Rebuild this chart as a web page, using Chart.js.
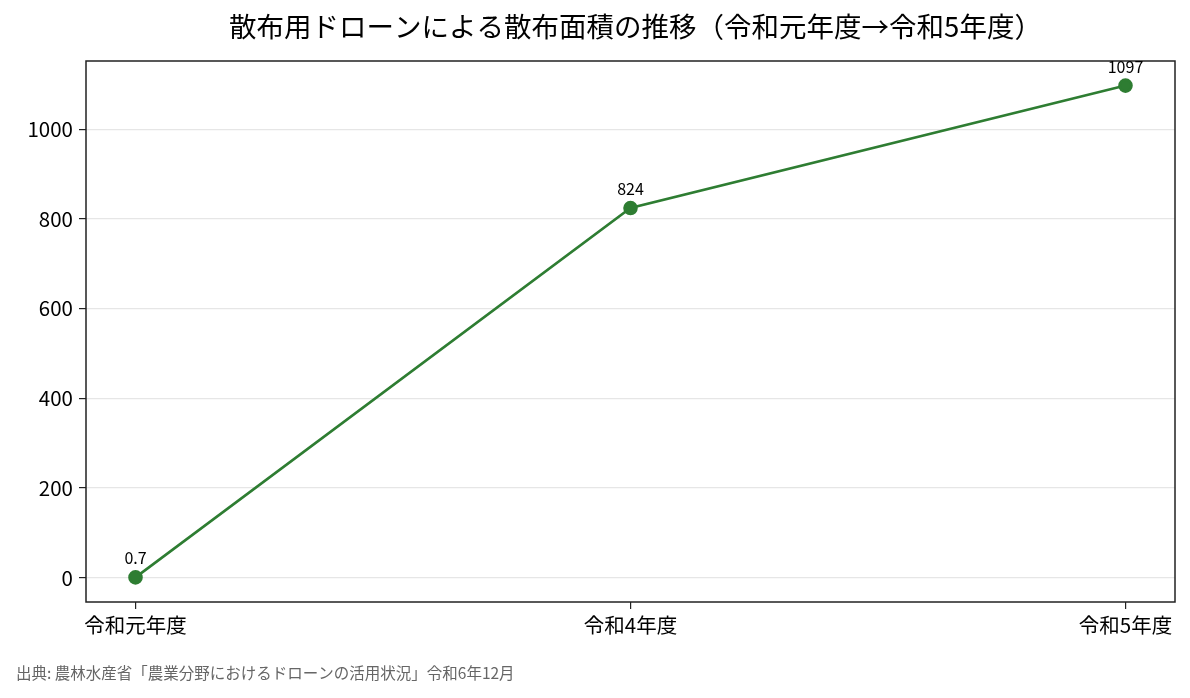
<!DOCTYPE html>
<html>
<head>
<meta charset="utf-8">
<script src="https://cdn.jsdelivr.net/npm/chart.js@4.4.0/dist/chart.umd.min.js"></script>
<style>
  html, body { margin: 0; padding: 0; background: #fff; }
  #wrap { width: 1190px; height: 698px; }
</style>
</head>
<body>
<div id="wrap"><canvas id="chart" width="1190" height="698"></canvas></div>
<script>
const years = ['令和元年度', '令和4年度', '令和5年度'];
const areas = [0.7, 824, 1097];
const labelText = ['0.7', '824', '1097'];
const yTicks = [0, 200, 400, 600, 800, 1000];
const titleText = '散布用ドローンによる散布面積の推移（令和元年度→令和5年度）';
const sourceText = '出典: 農林水産省「農業分野におけるドローンの活用状況」令和6年12月';

const FONT = "'Noto Sans CJK JP', 'Noto Sans', sans-serif";
const green = '#2e7d32';

// title, frame, point labels, source note
const extras = {
    id: 'extras',
    afterDraw(chart) {
        const ctx = chart.ctx;
        const a = chart.chartArea;
        ctx.save();
        ctx.strokeStyle = '#222';
        ctx.lineWidth = 1.5;
        ctx.strokeRect(a.left, a.top, a.right - a.left, a.bottom - a.top);

        ctx.fillStyle = '#000';
        ctx.font = '27.5px ' + FONT;
        ctx.textAlign = 'center';
        ctx.textBaseline = 'middle';
        ctx.fillText(titleText, (a.left + a.right) / 2 + 5, 27);

        const meta = chart.getDatasetMeta(0);
        ctx.font = '16px ' + FONT;
        ctx.textBaseline = 'bottom';
        meta.data.forEach(function (pt, i) {
            ctx.fillText(labelText[i], pt.x, pt.y - 11);
        });

        ctx.fillStyle = '#666';
        ctx.font = '15.5px ' + FONT;
        ctx.textAlign = 'left';
        ctx.textBaseline = 'middle';
        ctx.fillText(sourceText, 16, 673);
        ctx.restore();
    }
};

new Chart(document.getElementById('chart'), {
    type: 'line',
    data: {
        datasets: [{
            data: areas.map(function (v, i) { return { x: i, y: v }; }),
            borderColor: green,
            backgroundColor: green,
            borderWidth: 2.6,
            pointRadius: 6,
            pointHoverRadius: 6,
            pointBackgroundColor: green,
            pointBorderColor: green,
            tension: 0
        }]
    },
    options: {
        responsive: false,
        animation: false,
        layout: { padding: { left: 0, right: 15, top: 61, bottom: 0 } },
        plugins: {
            legend: { display: false },
            tooltip: { enabled: false }
        },
        scales: {
            x: {
                type: 'linear',
                min: -0.1,
                max: 2.1,
                afterBuildTicks: function (s) { s.ticks = years.map(function (_, i) { return { value: i }; }); },
                afterFit: function (s) { s.height = 96; },
                grid: { color: 'rgba(0,0,0,0)', tickColor: '#222', tickLength: 7, lineWidth: 1.2 },
                border: { display: false },
                ticks: {
                    color: '#000',
                    font: { family: FONT, size: 20.5 },
                    padding: 4,
                    maxRotation: 0,
                    callback: function (v) { return years[v]; }
                }
            },
            y: {
                min: -54.1,
                max: 1151.8,
                afterBuildTicks: function (s) { s.ticks = yTicks.map(function (v) { return { value: v }; }); },
                afterFit: function (s) { s.width = 86; },
                grid: { color: '#e6e6e6', tickColor: '#222', tickLength: 7, lineWidth: 1.2 },
                border: { display: false },
                ticks: {
                    color: '#000',
                    font: { family: FONT, size: 20.5 },
                    padding: 6,
                    callback: function (v) { return String(v); }
                }
            }
        }
    },
    plugins: [extras]
});
</script>
</body>
</html>
